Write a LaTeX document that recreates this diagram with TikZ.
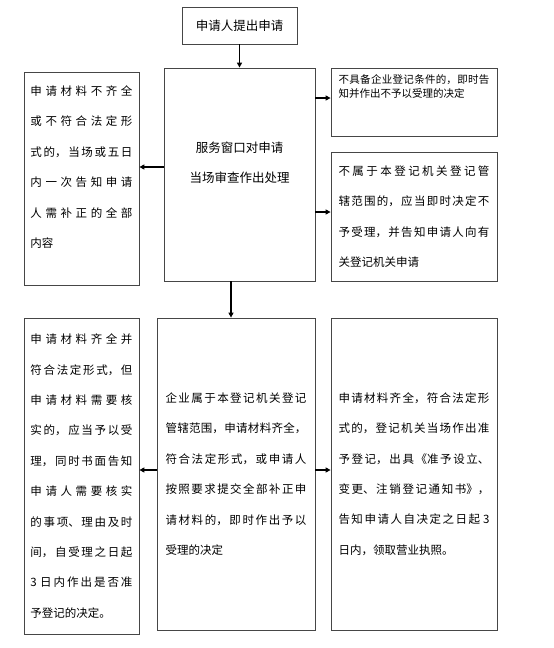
\documentclass[tikz,border=0pt]{standalone}
\usepackage{fontspec}
\setmainfont{Noto Sans CJK SC}
\usepackage{tikz}
\usetikzlibrary{arrows.meta, positioning}
\definecolor{cadre}{RGB}{70,70,70}
\XeTeXlinebreaklocale "zh"
\XeTeXlinebreakskip=0pt plus 4pt

\begin{document}
\begin{tikzpicture}[x=1pt, y=1pt,
	boite/.style={draw=cadre, line width=0.8pt, inner sep=0pt},
	texte/.style={align=justify, font=\fontsize{11.5}{30.4}\selectfont},
	fleche/.style={-{Triangle[length=5pt,width=5pt]}, line width=1.3pt}]
	\useasboundingbox (0,0) rectangle (554,-648);
	
	% demande
	\node[boite, minimum width=115pt, minimum height=37pt,
	font=\fontsize{12.5}{15}\selectfont] (shenqing) at (239.5,-25.5) {申请人提出申请};
	
	% guichet : examen sur place
	\node[boite, minimum width=151pt, minimum height=213pt] (chuli) at (239.5,-174.5) {};
	\node[align=center, font=\fontsize{12.5}{30}\selectfont] (chuli-t)
	at ([yshift=11.5pt]chuli.center) {服务窗口对申请\\当场审查作出处理};
	
	% a gauche : dossier incomplet
	\node[boite, minimum width=115pt, minimum height=213pt] (buqi) at (81.5,-178.5) {};
	\node[texte, text width=102pt] (buqi-t) at ([yshift=11.5pt]buqi.center)
	{申请材料不齐全\linebreak 或不符合法定形\linebreak 式的，当场或五日\linebreak
		内一次告知申请\linebreak 人需补正的全部\linebreak 内容};
	
	% a droite : refus
	\node[boite, minimum width=166pt, minimum height=68pt] (bujubei) at (414,-102) {};
	\node[texte, text width=151pt, font=\fontsize{10.5}{14}\selectfont] (bujubei-t)
	at ([yshift=16pt]bujubei.center)
	{不具备企业登记条件的，即时告\linebreak 知并作出不予以受理的决定};
	
	\node[boite, texte, text width=151pt, minimum width=166pt, minimum height=129pt]
	(bushuyu) at (414,-216.5)
	{不属于本登记机关登记管\linebreak 辖范围的，应当即时决定不\linebreak
		予受理，并告知申请人向有\linebreak 关登记机关申请};
	
	% ligne du bas
	\node[boite, texte, text width=141pt, minimum width=158pt, minimum height=312pt]
	(shouli) at (236,-474)
	{企业属于本登记机关登记\linebreak 管辖范围，申请材料齐全，\linebreak
		符合法定形式，或申请人\linebreak 按照要求提交全部补正申\linebreak
		请材料的，即时作出予以\linebreak 受理的决定};
	
	\node[boite, texte, text width=102pt, minimum width=115pt, minimum height=316pt]
	(hesi) at (81.5,-476)
	{申请材料齐全并\linebreak 符合法定形式，但\linebreak 申请材料需要核\linebreak
		实的，应当予以受\linebreak 理，同时书面告知\linebreak 申请人需要核实\linebreak
		的事项、理由及时\linebreak 间，自受理之日起\linebreak 3 日内作出是否准\linebreak
		予登记的决定。};
	
	\node[boite, texte, text width=151pt, minimum width=166pt, minimum height=312pt]
	(zhunyu) at (414,-474)
	{申请材料齐全，符合法定形\linebreak 式的，登记机关当场作出准\linebreak
		予登记，出具《准予设立、\linebreak 变更、注销登记通知书》，\linebreak
		告知申请人自决定之日起 3\linebreak 日内，领取营业执照。};
	
	% fleches
	\draw[fleche] (shenqing) -- (chuli);
	\draw[fleche] ([yshift=7.5pt]chuli.west) -- ([yshift=7.5pt]chuli.west -| buqi.east);
	\draw[fleche] ([yshift=4pt]chuli.east |- bujubei.west) -- ([yshift=4pt]bujubei.west);
	\draw[fleche] ([yshift=4.5pt]chuli.east |- bushuyu.west) -- ([yshift=4.5pt]bushuyu.west);
	\draw[fleche] ([xshift=-8.5pt]chuli.south) -- ([xshift=-8.5pt]chuli.south |- shouli.north);
	\draw[fleche] ([yshift=4pt]shouli.west) -- ([yshift=4pt]shouli.west -| hesi.east);
	\draw[fleche] ([yshift=4pt]shouli.east) -- ([yshift=4pt]shouli.east -| zhunyu.west);
\end{tikzpicture}
\end{document}
